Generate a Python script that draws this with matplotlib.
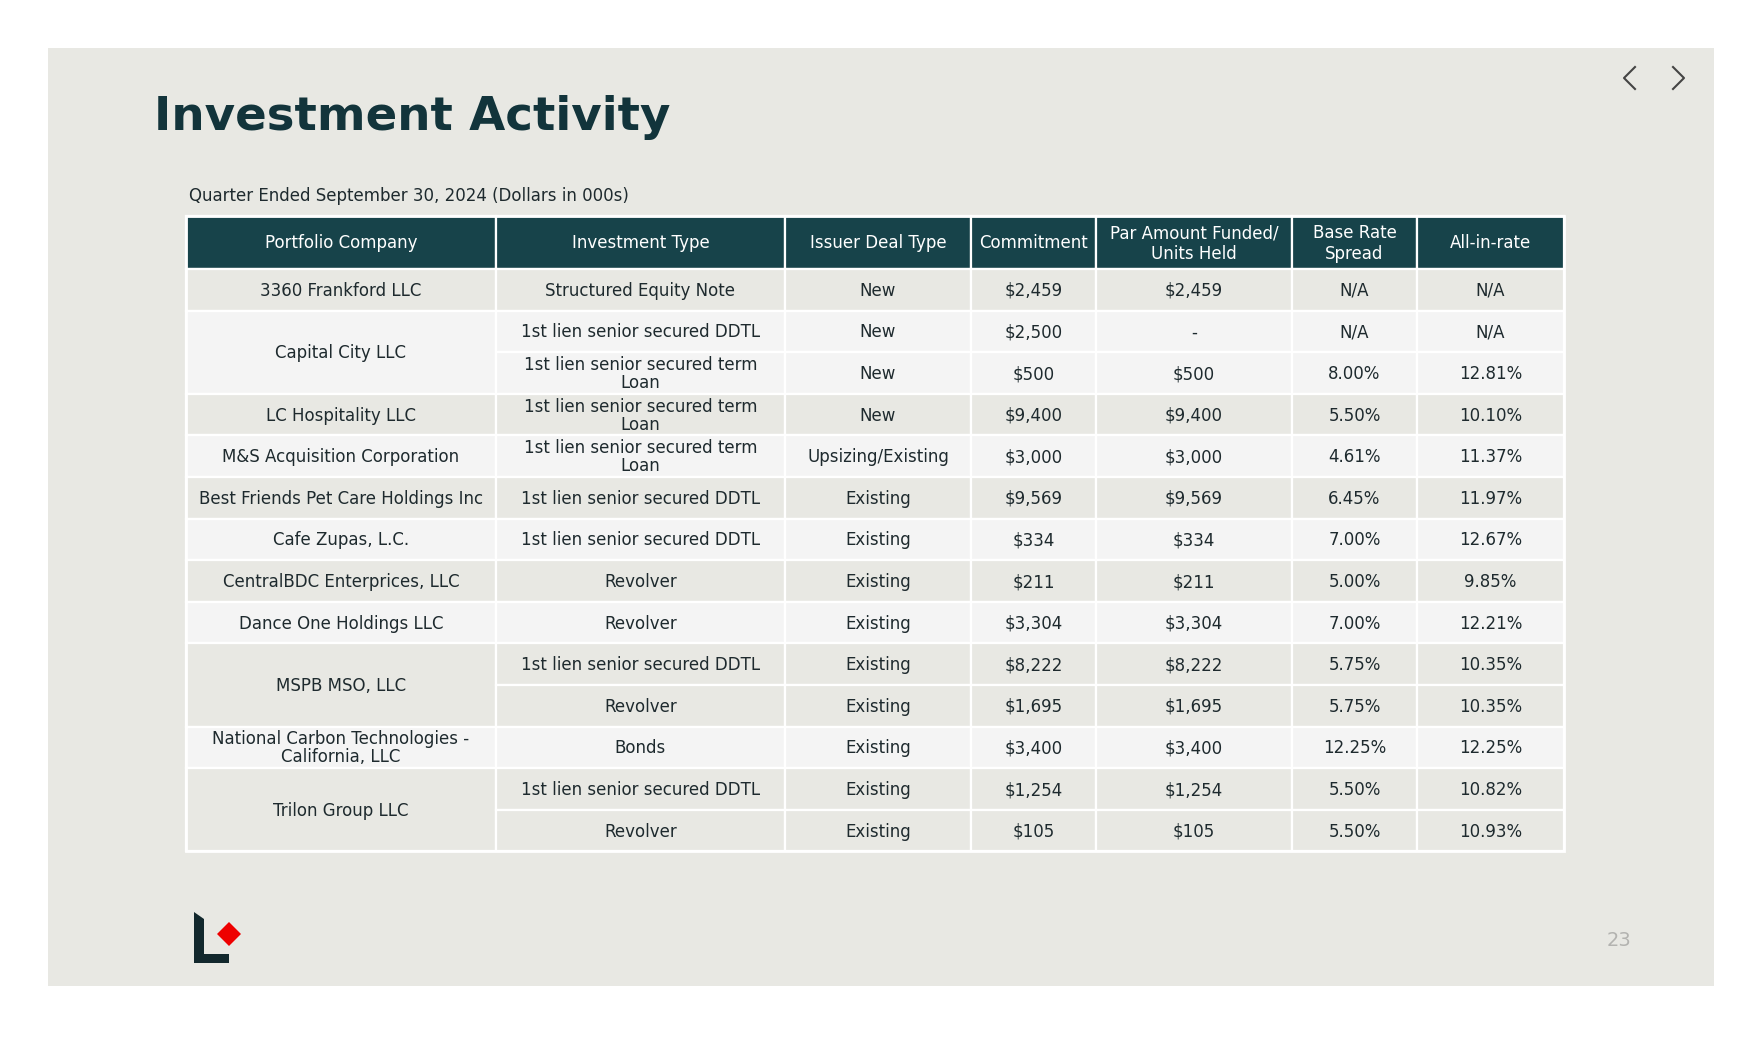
import matplotlib
matplotlib.use("Agg")
import matplotlib.pyplot as plt
from matplotlib.patches import Rectangle, Polygon

# ---- data ----
headers = ["Portfolio Company", "Investment Type", "Issuer Deal Type", "Commitment",
           "Par Amount Funded/\nUnits Held", "Base Rate\nSpread", "All-in-rate"]

companies = ["3360 Frankford LLC", "Capital City LLC", "LC Hospitality LLC",
             "M&S Acquisition Corporation", "Best Friends Pet Care Holdings Inc",
             "Cafe Zupas, L.C.", "CentralBDC Enterprices, LLC", "Dance One Holdings LLC",
             "MSPB MSO, LLC", "National Carbon Technologies -\nCalifornia, LLC",
             "Trilon Group LLC"]
company_spans = [1, 2, 1, 1, 1, 1, 1, 1, 2, 1, 2]

inv_types = ["Structured Equity Note", "1st lien senior secured DDTL",
             "1st lien senior secured term\nLoan", "1st lien senior secured term\nLoan",
             "1st lien senior secured term\nLoan", "1st lien senior secured DDTL",
             "1st lien senior secured DDTL", "Revolver", "Revolver",
             "1st lien senior secured DDTL", "Revolver", "Bonds",
             "1st lien senior secured DDTL", "Revolver"]
deal_types = ["New", "New", "New", "New", "Upsizing/Existing"] + ["Existing"] * 9
commitment = ["$2,459", "$2,500", "$500", "$9,400", "$3,000", "$9,569", "$334", "$211",
              "$3,304", "$8,222", "$1,695", "$3,400", "$1,254", "$105"]
par_funded = ["$2,459", "-", "$500", "$9,400", "$3,000", "$9,569", "$334", "$211",
              "$3,304", "$8,222", "$1,695", "$3,400", "$1,254", "$105"]
spread = ["N/A", "N/A", "8.00%", "5.50%", "4.61%", "6.45%", "7.00%", "5.00%",
          "7.00%", "5.75%", "5.75%", "12.25%", "5.50%", "5.50%"]
all_in = ["N/A", "N/A", "12.81%", "10.10%", "11.37%", "11.97%", "12.67%", "9.85%",
          "12.21%", "10.35%", "10.35%", "12.25%", "10.82%", "10.93%"]

# ---- layout (pixels) ----
W, H = 1765, 1037
col_edges = [186, 496, 785, 971, 1096, 1292, 1417, 1564]
table_top = 216
header_h = 53
row_h = 41.6

bg = "#e8e8e3"
light = "#f4f4f4"
header_col = "#17434a"
title_col = "#12343b"
text_col = "#1e2a2e"

fig = plt.figure(figsize=(W / 100, H / 100), dpi=100)
ax = fig.add_axes([0, 0, 1, 1])
ax.set_xlim(0, W)
ax.set_ylim(H, 0)
ax.axis("off")

# slide
ax.add_patch(Rectangle((48, 48), 1666, 938, facecolor=bg, edgecolor="none"))

ax.text(154, 118, "Investment Activity", fontsize=33.7, fontweight="bold",
        color=title_col, va="center", ha="left")
ax.text(189, 196, "Quarter Ended September 30, 2024 (Dollars in 000s)", fontsize=12,
        color=text_col, va="center", ha="left")

# nav arrows
ax.plot([1635, 1624, 1635], [67, 78, 89], color="#444444", lw=1.5)
ax.plot([1673, 1684, 1673], [67, 78, 89], color="#444444", lw=1.5)

fs = 12

def cell(c0, c1, y, h, fc, txt, tc, ls=1.0):
    x0 = col_edges[c0]
    x1 = col_edges[c1]
    ax.add_patch(Rectangle((x0, y), x1 - x0, h, facecolor=fc, edgecolor="white", lw=1.6))
    ax.text((x0 + x1) / 2, y + h / 2 + 1, txt, fontsize=fs, color=tc,
            ha="center", va="center", linespacing=ls)

# header
for j, hd in enumerate(headers):
    cell(j, j + 1, table_top, header_h, header_col, hd, "white", ls=1.15)

# body
body_top = table_top + header_h
cols = [inv_types, deal_types, commitment, par_funded, spread, all_in]
r = 0
for g, (comp, span) in enumerate(zip(companies, company_spans)):
    fc = bg if g % 2 == 0 else light
    y = body_top + r * row_h
    cell(0, 1, y, span * row_h, fc, comp, text_col)
    for k in range(span):
        yy = body_top + (r + k) * row_h
        for j, vals in enumerate(cols):
            cell(j + 1, j + 2, yy, row_h, fc, vals[r + k], text_col)
    r += span

# outer border
ax.add_patch(Rectangle((col_edges[0], table_top), col_edges[-1] - col_edges[0],
                       body_top + r * row_h - table_top, facecolor="none",
                       edgecolor="white", lw=2))

# logo
ax.add_patch(Polygon([(194, 912), (204, 919), (204, 954), (229, 954), (229, 963), (194, 963)],
                     closed=True, facecolor="#12282d", edgecolor="none"))
ax.add_patch(Polygon([(229, 922), (241, 934), (229, 946), (217, 934)],
                     closed=True, facecolor="#ee0000", edgecolor="none"))

ax.text(1619, 941, "23", fontsize=14, color="#b3b3b0", ha="center", va="center")

fig.savefig("out.png", dpi=100, facecolor="white")
